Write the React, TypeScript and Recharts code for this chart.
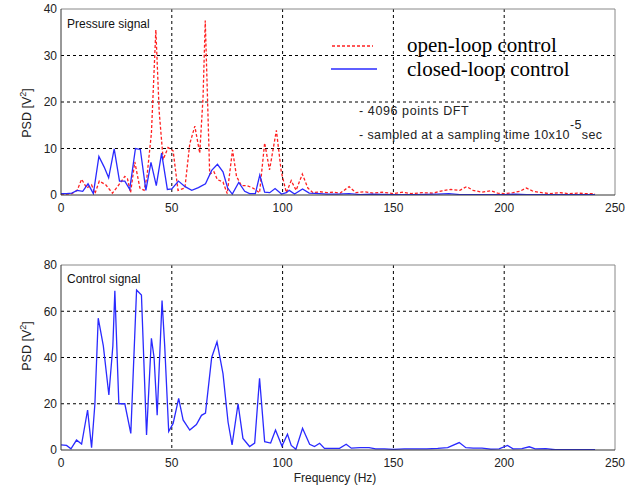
import React from 'react';
import { LineChart, Line, XAxis, YAxis, CartesianGrid, ReferenceLine } from 'recharts';

const freqTicks = [0, 50, 100, 150, 200, 250];
const pressureTicks = [0, 10, 20, 30, 40];
const controlTicks = [0, 20, 40, 60, 80];

const openLoopFreq = [0, 2.4, 4.9, 7.3, 9.3, 11.6, 13.8, 15.3, 17.3, 20.2, 23.2, 25.5, 28.8, 30.0, 31.4, 33.3, 35.6, 37.5, 38.8, 40.8, 42.8, 44.3, 46.1, 48.3, 50.6, 52.8, 55.9, 58.1, 60.4, 62.6, 64.1, 65.1, 67.1, 69.0, 70.6, 73.1, 75.0, 77.4, 79.2, 81.4, 84.0, 86.6, 89.6, 91.9, 94.1, 97.2, 99.4, 101.7, 103.9, 106.1, 108.9, 111.4, 113.7, 117, 120, 123, 126, 130, 133, 137, 141, 145, 150, 154, 158, 163, 168, 172, 176, 180, 183, 186, 190, 194, 197, 200, 204, 207, 210, 213, 217, 221, 225, 229, 233, 237, 241];
const openLoopPsd = [0.2, 0.2, 0.3, 1.0, 3.4, 1.5, 2.2, 0.3, 3.0, 2.2, 0.4, 1.8, 4.0, 3.5, 0.5, 7.1, 1.5, 1.0, 4.0, 13.3, 35.5, 18, 7.6, 10.2, 9.5, 1.0, 1.5, 11, 14.8, 9.0, 21, 37.5, 4.5, 5.0, 3.3, 2.8, 0.3, 9.7, 4.0, 2.0, 2.0, 1.5, 0.5, 11.2, 5.4, 13.9, 5.0, 0.5, 3.1, 1.0, 4.5, 1.5, 0.5, 0.7, 0.5, 0.6, 0.4, 1.8, 0.5, 0.7, 0.4, 0.6, 0.3, 0.6, 0.3, 0.5, 0.4, 0.9, 1.2, 1.0, 1.8, 1.0, 0.6, 0.9, 0.4, 0.3, 0.5, 0.8, 1.5, 0.8, 0.5, 0.3, 0.5, 0.3, 0.4, 0.3, 0.3];

const closedLoopFreq = [0, 2.4, 4.9, 7.3, 9.8, 12.2, 14.6, 17.1, 19.5, 21.5, 24.0, 26.4, 28.8, 31.0, 33.6, 35.8, 38.3, 40.6, 43.0, 45.4, 48.0, 50.0, 53.0, 56.0, 59.0, 62.0, 65.2, 68.0, 70.6, 73.1, 75.2, 77.3, 80.2, 82.9, 85.1, 87.7, 89.7, 91.9, 94.2, 96.6, 99.5, 101.7, 103.0, 105.4, 109.0, 112.0, 116.7, 120, 125, 130, 135, 140, 150, 160, 170, 175, 180, 190, 200, 205, 210, 220, 230, 241];
const closedLoopPsd = [0.3, 0.3, 0.4, 1.0, 0.8, 2.4, 0.3, 8.3, 6.0, 3.7, 9.9, 3.0, 3.0, 1.2, 10.0, 9.8, 1.0, 7.0, 2.0, 9.0, 1.2, 1.3, 3.0, 1.8, 1.0, 1.6, 2.4, 5.3, 6.6, 5.0, 1.5, 0.2, 2.7, 0.8, 0.3, 0.3, 4.3, 0.6, 0.5, 1.4, 0.2, 0.5, 1.0, 0.2, 1.3, 0.4, 0.3, 0.2, 0.2, 0.3, 0.1, 0.2, 0.1, 0.1, 0.2, 0.3, 0.1, 0.1, 0.1, 0.2, 0.1, 0.1, 0.1, 0.1];

const controlFreq = [0, 2.5, 4.5, 7.0, 9.3, 12.0, 13.8, 15.3, 16.8, 19.1, 21.6, 23.4, 24.3, 26.1, 28.8, 31.5, 34.1, 36.3, 38.6, 40.8, 42.0, 43.4, 45.6, 46.8, 48.6, 50.6, 53.1, 55.1, 58.1, 61.1, 63.4, 65.2, 68.0, 70.4, 73.1, 75.4, 77.2, 79.9, 82.1, 85.1, 87.4, 89.6, 91.9, 94.6, 96.8, 99.7, 102.2, 103.9, 106.0, 109.0, 112.2, 114.4, 116.7, 118.9, 122, 125.7, 128.7, 131, 135, 139, 142, 146, 150, 155, 160, 165, 170, 174.5, 179.7, 182.7, 186, 190, 194, 197.7, 201.5, 204, 208, 211.3, 214, 218.8, 223, 230, 241];
const controlPsd = [2.2, 2.0, 0.5, 4.3, 2.6, 17.3, 1.0, 20, 57, 45, 23.8, 45, 68.9, 20, 20, 7.2, 69.2, 67, 6.5, 48.3, 40, 15, 64.6, 45, 8, 11.5, 22.3, 13, 8.6, 11, 15, 16, 40, 46.8, 33, 12, 2.2, 20, 5, 1.5, 3, 31, 3.6, 3, 8.6, 1.7, 6.8, 2, 0.3, 9.4, 2.5, 1.5, 2.9, 0.7, 0.7, 0.7, 2.5, 0.8, 1.0, 1.0, 0.5, 0.5, 0.3, 0.5, 0.5, 0.5, 0.7, 1.0, 3.2, 1.0, 0.8, 0.8, 0.4, 0.5, 2.0, 0.5, 0.6, 1.4, 0.5, 0.6, 0.1, 0.1, 0.1];

const zip = (f: number[], v: number[]) => f.map((x, i) => ({ f: x, v: v[i] }));
const openData = zip(openLoopFreq, openLoopPsd);
const closedData = zip(closedLoopFreq, closedLoopPsd);
const controlData = zip(controlFreq, controlPsd);

const FONT = 'Liberation Sans, Arial, sans-serif';
const SERIF = 'Liberation Serif, Times New Roman, serif';
const tickStyle = { fontSize: 12, fill: '#222', fontFamily: FONT };
const RED = '#ff2020';
const BLUE = '#2a2aff';

export default function App() {
  return (
    <div style={{ position: 'absolute', left: 0, top: 0, width: 636, height: 486, background: '#fff' }}>
      <div style={{ position: 'absolute', left: 0, top: 0 }}>
        <LineChart width={636} height={230} margin={{ top: 9, right: 21, left: 0, bottom: 10 }}>
          <CartesianGrid stroke="#000" strokeDasharray="3 3" horizontalValues={[10, 20, 30]} verticalValues={[50, 100, 150, 200]} />
          <XAxis type="number" dataKey="f" domain={[0, 250]} ticks={freqTicks} tickSize={0} tickMargin={8} height={25} axisLine={{ stroke: '#333' }} tick={tickStyle} allowDataOverflow />
          <YAxis type="number" domain={[0, 40]} ticks={pressureTicks} width={61} tickSize={0} tickMargin={4} axisLine={{ stroke: '#333' }} tick={tickStyle} allowDataOverflow />
          <ReferenceLine y={40} stroke="#888" />
          <ReferenceLine x={250} stroke="#888" />
          <Line data={openData} dataKey="v" type="linear" stroke={RED} strokeWidth={1.3} strokeDasharray="3 2" dot={false} isAnimationActive={false} />
          <Line data={closedData} dataKey="v" type="linear" stroke={BLUE} strokeWidth={1.3} dot={false} isAnimationActive={false} />
        </LineChart>
      </div>
      <div style={{ position: 'absolute', left: 0, top: 250 }}>
        <LineChart width={636} height={236} margin={{ top: 15, right: 21, left: 0, bottom: 10 }}>
          <CartesianGrid stroke="#000" strokeDasharray="3 3" horizontalValues={[20, 40, 60]} verticalValues={[50, 100, 150, 200]} />
          <XAxis type="number" dataKey="f" domain={[0, 250]} ticks={freqTicks} tickSize={0} tickMargin={8} height={26} axisLine={{ stroke: '#333' }} tick={tickStyle} allowDataOverflow />
          <YAxis type="number" domain={[0, 80]} ticks={controlTicks} width={61} tickSize={0} tickMargin={4} axisLine={{ stroke: '#333' }} tick={tickStyle} allowDataOverflow />
          <ReferenceLine y={80} stroke="#888" />
          <ReferenceLine x={250} stroke="#888" />
          <Line data={controlData} dataKey="v" type="linear" stroke={BLUE} strokeWidth={1.3} dot={false} isAnimationActive={false} />
        </LineChart>
      </div>
      <svg width={636} height={486} style={{ position: 'absolute', left: 0, top: 0, pointerEvents: 'none' }}>
        <text x={67} y={28} fontSize={12} fontFamily={FONT} fill="#111">Pressure signal</text>
        <text x={67} y={283} fontSize={12} fontFamily={FONT} fill="#111">Control signal</text>
        <text transform="translate(31,113) rotate(-90)" textAnchor="middle" fontSize={12.5} fontFamily={FONT} fill="#222">
          PSD [V<tspan dy={-5} fontSize={9}>2</tspan><tspan dy={5}>]</tspan>
        </text>
        <text transform="translate(31,346) rotate(-90)" textAnchor="middle" fontSize={12.5} fontFamily={FONT} fill="#222">
          PSD [V<tspan dy={-5} fontSize={9}>2</tspan><tspan dy={5}>]</tspan>
        </text>
        <line x1={332} y1={46} x2={373} y2={46} stroke={RED} strokeWidth={1.3} strokeDasharray="3 2" />
        <line x1={331} y1={69} x2={377} y2={69} stroke={BLUE} strokeWidth={1.5} />
        <text x={407} y={52} fontSize={21} fontFamily={SERIF} fill="#000">open-loop control</text>
        <text x={407} y={76} fontSize={21} fontFamily={SERIF} fill="#000">closed-loop control</text>
        <text x={359} y={115} fontSize={12.5} letterSpacing={0.6} fontFamily={FONT} fill="#222">- 4096 points DFT</text>
        <text x={359} y={139} fontSize={12.5} letterSpacing={0.4} fontFamily={FONT} fill="#222">
          - sampled at a sampling time 10x10<tspan dy={-10}>-5</tspan><tspan dy={10}>sec</tspan>
        </text>
        <text x={335} y={482} textAnchor="middle" fontSize={12} fontFamily={FONT} fill="#222">Frequency (Hz)</text>
      </svg>
    </div>
  );
}
